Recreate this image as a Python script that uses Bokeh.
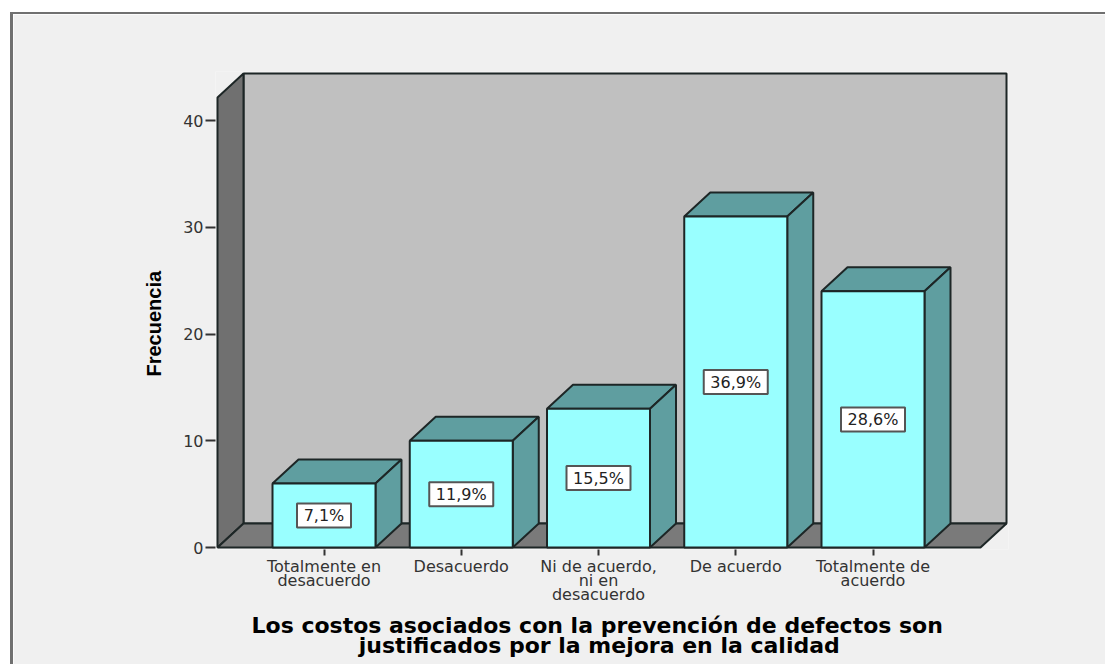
from bokeh.plotting import figure
from bokeh.embed import file_html
from bokeh.resources import INLINE
from bokeh.models import Range1d, FixedTicker, Title, ColumnDataSource
from bokeh.core.properties import value

categories = ["Totalmente en\ndesacuerdo", "Desacuerdo", "Ni de acuerdo,\nni en\ndesacuerdo", "De acuerdo", "Totalmente de\nacuerdo"]
frequencies = [6, 10, 13, 31, 24]
percent_labels = ["7,1%", "11,9%", "15,5%", "36,9%", "28,6%"]
y_ticks = [0, 10, 20, 30, 40]
y_title = "Frecuencia"
x_title_1 = "Los costos asociados con la prevención de defectos son"
x_title_2 = "justificados por la mejora en la calidad"

# page pixel geometry of the reference
X0_PX, X_STEP = 323.5, 137.25
Y0_PX, Y_STEP = 547.0, 10.675
F_L, F_R, F_T, F_B = 215, 1008, 71, 549
MX, MY = 13, 14
W, H = 1108 - MX, 666 - MY

def dx(px):
    return (px - X0_PX) / X_STEP
def dy(py):
    return (Y0_PX - py) / Y_STEP

p = figure(width=W, height=H, output_backend="svg", toolbar_location=None,
           x_range=Range1d(dx(F_L), dx(F_R)), y_range=Range1d(dy(F_B), dy(F_T)),
           min_border_left=F_L - MX, min_border_right=W - (F_R - MX),
           min_border_top=F_T - MY, min_border_bottom=H - (F_B - MY))
PANEL = "#f0f0f0"
EDGE = "#1d2626"
p.styles = {"margin-left": "10px", "margin-top": "12px",
            "border-left": "3px solid #707070", "border-top": "2px solid #707070"}
p.border_fill_color = PANEL
p.background_fill_color = PANEL
p.outline_line_color = None
p.grid.visible = False

# walls
wl, wb, wr, wt = dx(243), dy(523), dx(1006), dy(73)
fl, fb, fr, ft = dx(217), 0, dx(980), dy(97)
p.patch([wl, wr, wr, wl], [wb, wb, wt, wt], fill_color="#c0c0c0", line_color=EDGE, line_width=2)
p.patch([fl, wl, wl, fl], [fb, wb, wt, ft], fill_color="#707070", line_color=EDGE, line_width=2)
p.patch([fl, fr, wr, wl], [fb, fb, wb, wb], fill_color="#7a7a7a", line_color=EDGE, line_width=2)

# bars
HALF = 51.5 / X_STEP
DX = 26 / X_STEP
DY = 24 / Y_STEP
xs = list(range(len(frequencies)))
tops_x, tops_y, side_x, side_y = [], [], [], []
for i, v in zip(xs, frequencies):
    tops_x.append([i - HALF, i + HALF, i + HALF + DX, i - HALF + DX])
    tops_y.append([v, v, v + DY, v + DY])
    side_x.append([i + HALF, i + HALF + DX, i + HALF + DX, i + HALF])
    side_y.append([0, DY, v + DY, v])
p.patches(tops_x, tops_y, fill_color="#5f9ea0", line_color=EDGE, line_width=2)
p.patches(side_x, side_y, fill_color="#5f9ea0", line_color=EDGE, line_width=2)
p.quad(left=[i - HALF for i in xs], right=[i + HALF for i in xs], bottom=[0] * len(xs), top=frequencies,
       fill_color="#99ffff", line_color=EDGE, line_width=2)

# percent boxes
src = ColumnDataSource(dict(x=xs, y=[v / 2 for v in frequencies], t=percent_labels,
                            w=[14 + 10 * len(t) for t in percent_labels]))
p.rect("x", "y", width="w", height=24, width_units="screen", height_units="screen", source=src,
       fill_color="white", line_color="#555555", line_width=2)
p.text("x", "y", text="t", source=src, text_align="center", text_baseline="middle",
       text_font=value("DejaVu Sans"), text_font_size="16px", text_color="#222222")

# axes
p.xaxis.ticker = FixedTicker(ticks=xs)
p.xaxis.major_label_overrides = {i: c for i, c in zip(xs, categories)}
p.xaxis.axis_line_color = None
p.xaxis.major_tick_out = 6
p.xaxis.major_tick_in = 0
p.xaxis.minor_tick_line_color = None
p.xaxis.major_tick_line_color = "#333333"
p.xaxis.major_tick_line_width = 2
p.xaxis.major_label_standoff = 1
p.xaxis.major_label_text_font = "DejaVu Sans"
p.xaxis.major_label_text_font_size = "16px"
p.xaxis.major_label_text_color = "#333333"
p.xaxis.major_label_text_line_height = 0.75

p.yaxis.ticker = FixedTicker(ticks=y_ticks)
p.yaxis.axis_line_color = None
p.yaxis.major_tick_out = 10
p.yaxis.major_tick_in = 0
p.yaxis.minor_tick_line_color = None
p.yaxis.major_tick_line_color = "#333333"
p.yaxis.major_tick_line_width = 2
p.yaxis.major_label_standoff = 2
p.yaxis.major_label_text_font = "DejaVu Sans"
p.yaxis.major_label_text_font_size = "16px"
p.yaxis.major_label_text_color = "#333333"

# the second line is centred under the first with non-breaking spaces
x_title = x_title_1 + "\n" + "\u00a0" * 14 + x_title_2
p.add_layout(Title(text=x_title, align="left", offset=36, standoff=7,
                   text_font="DejaVu Sans", text_font_style="bold", text_font_size="22px",
                   text_line_height=0.8, text_color="black"), "below")
p.add_layout(Title(text=y_title, align="left", offset=173, standoff=31,
                   text_font="Liberation Sans", text_font_style="bold", text_font_size="20px",
                   text_color="black"), "left")

open("out.html", "w").write(file_html(p, INLINE))
